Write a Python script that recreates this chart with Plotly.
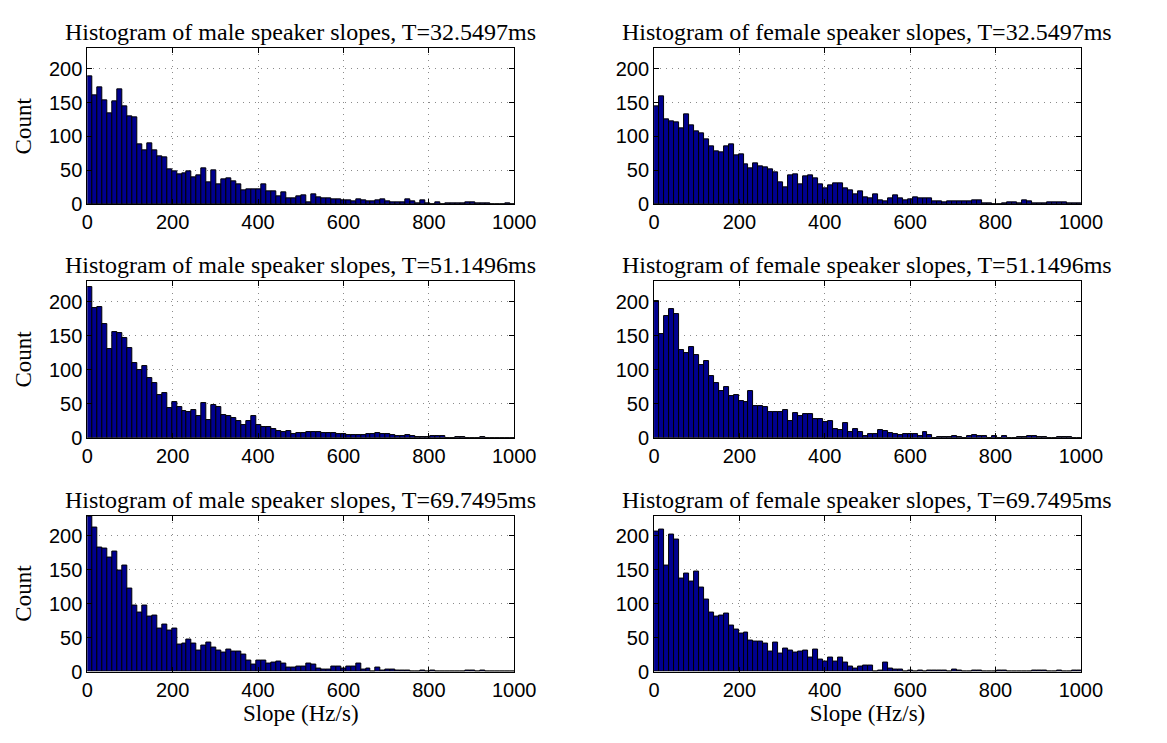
import plotly.graph_objects as go

BIN_WIDTH = 11.65

male_32 = [189,161,172,153,134,152,170,145,130,128,88,79,90,79,71,69,51,48,44,46,
           49,40,42,53,32,50,30,36,38,34,30,20,22,22,22,30,19,19,11,17,9,9,12,
           13,3,14,10,8,9,7,7,5,5,4,7,6,4,4,6,7,4,3,3,3,7,4,2,5,2,0,3,0,1,1,1,2,3,3,1,2,1,0,0,0,2,0]
female_32 = [144,159,125,122,121,112,133,117,107,104,95,86,78,77,85,88,72,73,59,53,
             60,56,55,51,47,32,25,43,44,30,41,42,38,29,24,28,31,31,23,21,15,19,10,
             8,15,6,4,8,13,8,5,7,10,8,8,8,4,4,3,4,4,4,4,4,5,5,2,2,0,0,2,3,3,1,6,4,2,2,2,3,3,3,3,2,2,2]
male_51 = [221,191,192,167,130,155,154,146,132,110,100,105,88,80,63,66,44,53,45,39,
           37,40,32,51,26,48,45,33,32,29,24,18,24,32,19,15,15,12,10,9,10,6,7,
           7,9,8,8,7,7,7,6,5,4,4,4,4,6,6,7,6,6,4,2,2,4,2,1,1,1,2,2,2,0,0,1,1,0,0,0,1,0,0,0,0,0,0]
female_51 = [201,152,179,189,182,128,124,133,121,106,112,90,80,69,75,61,63,54,52,69,
             46,46,45,38,37,37,40,25,36,32,35,35,27,28,23,24,12,11,21,8,12,9,2,
             6,6,11,10,7,5,4,5,5,6,3,8,4,0,1,1,1,2,1,0,3,4,3,2,0,2,0,2,0,0,1,1,2,2,1,1,0,0,1,1,1,0,0]
male_69 = [228,212,183,181,168,177,149,157,123,97,87,98,81,83,63,69,60,63,40,42,
           47,42,31,39,43,36,31,28,33,30,30,25,16,11,17,17,12,13,15,12,6,6,8,
           7,12,10,5,3,3,8,8,4,8,7,12,3,5,0,6,2,3,3,1,1,1,0,0,1,0,1,0,0,0,0,0,0,1,1,0,1,0,0,0,0,0,0]
female_69 = [206,210,156,202,195,137,144,133,147,124,106,87,81,83,85,68,62,56,57,46,
             44,44,41,30,43,26,34,31,28,29,31,20,33,18,15,20,15,20,13,8,4,8,9,
             9,0,1,13,4,3,3,0,1,0,1,0,1,1,1,1,0,3,2,0,0,1,1,0,0,0,2,1,0,0,0,0,0,1,1,1,0,0,1,0,0,2,2]

panels = [
    ("Histogram of male speaker slopes, T=32.5497ms", male_32),
    ("Histogram of female speaker slopes, T=32.5497ms", female_32),
    ("Histogram of male speaker slopes, T=51.1496ms", male_51),
    ("Histogram of female speaker slopes, T=51.1496ms", female_51),
    ("Histogram of male speaker slopes, T=69.7495ms", male_69),
    ("Histogram of female speaker slopes, T=69.7495ms", female_69),
]

W, H = 1167, 743
xdoms = [[83.3 / W, 520.7 / W], [664 / W, 1101.3 / W]]
rows_px = [(49.1, 207.3), (285.3, 444.3), (523.3, 681.7)]
ydoms = [[1 - b / H, 1 - t / H] for (t, b) in rows_px]

SERIF = "Liberation Serif"
SANS = "Liberation Sans"

fig = go.Figure()
layout = dict(
    width=W, height=H, margin=dict(l=0, r=0, t=0, b=0),
    paper_bgcolor="white", plot_bgcolor="white", showlegend=False,
    bargap=0, annotations=[],
)

for i, (title, counts) in enumerate(panels):
    r, c = divmod(i, 2)
    n = i + 1
    xa = "x" if n == 1 else f"x{n}"
    ya = "y" if n == 1 else f"y{n}"
    centers = [BIN_WIDTH * (k + 0.5) for k in range(len(counts))]
    fig.add_trace(go.Bar(
        x=centers, y=counts, width=BIN_WIDTH, xaxis=xa, yaxis=ya,
        marker=dict(color="#00008F", line=dict(color="black", width=1)),
        hoverinfo="skip",
    ))
    common = dict(
        showline=True, mirror="ticks", linecolor="black", linewidth=1,
        ticks="inside", ticklen=5, tickcolor="black",
        showgrid=True, gridcolor="#8a8a8a", griddash="1px,5px", gridwidth=1,
        zeroline=False, tickfont=dict(family=SANS, size=20, color="black"),
    )
    layout["xaxis" if n == 1 else f"xaxis{n}"] = dict(
        common, domain=xdoms[c], range=[0, 1000], tickvals=[0, 200, 400, 600, 800, 1000],
        anchor=ya,
        title=dict(text="Slope (Hz/s)", font=dict(family=SERIF, size=23, color="black"), standoff=0) if r == 2 else None,
    )
    layout["yaxis" if n == 1 else f"yaxis{n}"] = dict(
        common, domain=ydoms[r], range=[0, 230], tickvals=[0, 50, 100, 150, 200],
        anchor=xa,
        title=dict(text="Count", font=dict(family=SERIF, size=23, color="black"), standoff=10) if c == 0 else None,
    )
    layout["annotations"].append(dict(
        text=title, xref="paper", yref="paper",
        x=(xdoms[c][0] + xdoms[c][1]) / 2, y=ydoms[r][1],
        xanchor="center", yanchor="bottom", yshift=1, showarrow=False,
        font=dict(family=SERIF, size=24, color="black"),
    ))

fig.update_layout(**layout)
fig.write_html("out.html")
